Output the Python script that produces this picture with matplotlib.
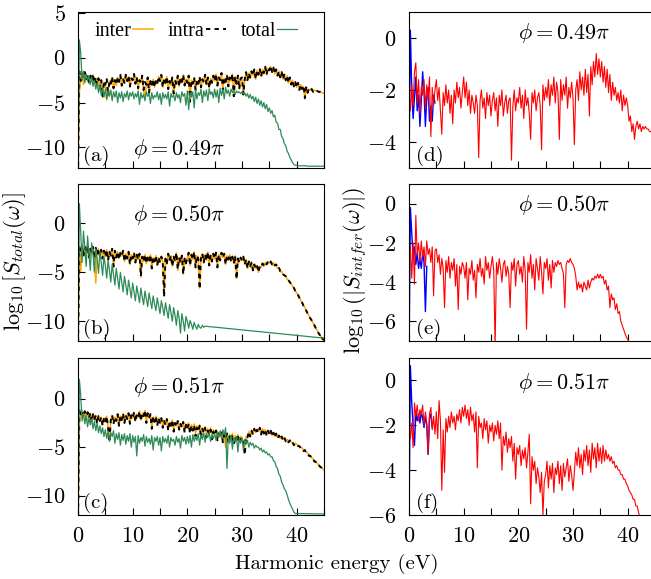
import numpy as np
import matplotlib
matplotlib.use("Agg")
import matplotlib.pyplot as plt
from matplotlib.ticker import MultipleLocator

plt.rcParams["font.family"] = "serif"
plt.rcParams["font.serif"] = ["cmr10"]
plt.rcParams["mathtext.fontset"] = "cm"
plt.rcParams["axes.formatter.use_mathtext"] = True

# harmonic energy grid (eV), 0.25 eV step
energy = np.linspace(0, 45, 181)

# ---- panel (a), phi = 0.49 pi ----
aInter = [
    -13, -3.8, -2.3, -1.6, -3.0, -1.7, -2.4, -2.1, -2.9, -2.0, -2.6, -1.9, -3.0, -2.3, -3.1, -2.2, -3.6, -2.5, -4.4, -2.7,
    -3.1, -4.7, -4.1, -2.6, -2.9, -2.2, -3.5, -2.5, -3.1, -2.2, -2.7, -2.0, -3.2, -2.4, -2.8, -2.0, -2.6, -2.1, -3.3, -2.3,
    -2.5, -1.9, -2.9, -2.2, -3.5, -2.5, -2.8, -2.1, -3.7, -4.5, -3.0, -2.2, -3.9, -2.7, -3.1, -2.4, -3.3, -2.6, -2.9, -2.1,
    -2.6, -2.0, -3.3, -2.4, -2.9, -2.1, -3.5, -2.6, -3.1, -2.2, -4.1, -2.5, -2.9, -2.1, -3.2, -2.3, -2.8, -1.9, -3.1, -2.4,
    -2.8, -2.1, -4.9, -2.5, -2.9, -2.2, -3.7, -2.6, -3.0, -2.2, -3.3, -2.4, -2.8, -1.9, -3.0, -2.3, -3.4, -2.3, -2.8, -2.1,
    -2.6, -1.8, -3.2, -2.2, -2.5, -1.8, -3.6, -2.3, -2.8, -1.9, -3.2, -2.3, -2.6, -1.8, -4.3, -2.1, -2.9, -2.1, -3.5, -2.3,
    -2.3, -4.1, -2.4, -1.7, -2.5, -1.7, -2.3, -1.5, -2.0, -1.4, -2.4, -1.4, -1.9, -1.3, -2.1, -1.3, -1.8, -1.0, -1.9, -1.2,
    -1.4, -1.0, -1.6, -1.1, -1.8, -1.4, -2.0, -1.5, -2.2, -1.7, -2.4, -1.8, -2.6, -2.0, -2.8, -2.3, -3.0, -2.5, -3.2, -2.8,
    -3.3, -2.9, -3.6, -3.0, -3.5, -3.2, -4.6, -3.3, -3.9, -3.5, -3.6, -3.5, -3.8, -3.6, -3.7, -3.7, -3.8, -3.8, -3.9, -3.9,
    -4.0]
aIntra = [
    -13, -1.5, -2.6, -1.8, -2.2, -1.6, -2.4, -1.9, -2.8, -2.0, -2.5, -1.8, -2.9, -2.2, -3.0, -2.3, -3.3, -2.5, -4.3, -2.6,
    -3.0, -2.3, -4.2, -2.6, -2.9, -2.1, -3.4, -2.5, -3.0, -2.2, -2.7, -1.9, -3.1, -2.4, -2.8, -1.9, -2.6, -2.0, -3.2, -2.3,
    -2.5, -1.8, -2.9, -2.2, -3.4, -2.5, -2.8, -2.0, -3.6, -2.7, -3.0, -2.2, -3.9, -2.6, -3.1, -2.4, -3.3, -2.5, -2.9, -2.1,
    -2.6, -1.9, -3.3, -2.4, -2.8, -2.1, -3.5, -2.6, -3.0, -2.2, -4.0, -2.5, -2.9, -2.0, -3.2, -2.3, -2.7, -1.9, -3.1, -2.4,
    -2.8, -2.0, -4.9, -2.5, -2.9, -2.2, -3.6, -2.6, -3.0, -2.1, -3.3, -2.4, -2.7, -1.9, -3.0, -2.2, -3.4, -2.3, -2.8, -2.0,
    -2.6, -1.8, -3.1, -2.2, -2.5, -1.7, -3.6, -2.3, -2.7, -1.9, -3.2, -2.2, -2.6, -1.8, -4.3, -2.1, -2.9, -2.0, -3.5, -2.3,
    -2.2, -4.1, -2.4, -1.6, -2.5, -1.7, -2.2, -1.5, -2.0, -1.3, -2.4, -1.4, -1.9, -1.2, -2.1, -1.3, -1.7, -1.0, -1.9, -1.1,
    -1.4, -0.9, -1.6, -1.1, -1.8, -1.3, -2.0, -1.5, -2.2, -1.6, -2.4, -1.8, -2.5, -2.0, -2.8, -2.2, -3.0, -2.5, -3.2, -2.7,
    -3.3, -2.8, -3.6, -3.0, -3.5, -3.1, -4.5, -3.3, -3.9, -3.4, -3.6, -3.5, -3.8, -3.6, -3.7, -3.7, -3.8, -3.8, -3.9, -3.9,
    -4.0]
aTotal = [
    -13, 2.0, 0.5, -2.5, -1.5, -2.8, -1.8, -2.6, -2.0, -3.0, -2.2, -3.2, -2.5, -3.5, -2.8, -3.9, -3.0, -4.2, -3.3, -4.4,
    -3.5, -4.6, -3.7, -4.3, -3.6, -4.8, -3.8, -4.4, -3.7, -5.0, -3.9, -4.5, -3.8, -4.9, -4.0, -4.4, -3.7, -4.7, -3.9, -4.3,
    -3.8, -4.6, -4.0, -4.4, -3.7, -5.2, -3.9, -4.5, -4.1, -4.8, -3.8, -4.3, -4.0, -5.1, -3.9, -4.6, -4.2, -4.4, -3.8, -4.7,
    -4.0, -5.2, -3.9, -4.5, -4.1, -4.6, -3.8, -5.4, -4.0, -4.4, -4.2, -4.8, -3.9, -4.5, -4.1, -5.0, -3.8, -4.3, -4.0, -5.3,
    -3.7, -5.8, -3.9, -4.4, -3.8, -5.6, -3.6, -4.6, -3.9, -4.2, -3.5, -5.0, -3.7, -4.3, -3.6, -4.8, -3.5, -4.1, -3.8, -4.5,
    -3.5, -4.4, -3.6, -5.0, -3.4, -4.2, -3.5, -4.6, -3.3, -4.0, -3.6, -4.3, -3.5, -3.9, -3.6, -4.1, -3.7, -3.9, -3.8, -4.0,
    -3.8, -4.0, -3.9, -4.3, -4.0, -4.5, -4.1, -4.6, -4.3, -4.9, -4.4, -5.1, -4.6, -5.3, -4.8, -5.5, -5.0, -5.7, -5.2, -6.0,
    -5.6, -6.2, -5.9, -6.6, -6.4, -7.2, -7.3, -8.0, -8.0, -8.8, -9.0, -9.6, -9.8, -10.4, -10.7, -11.1, -11.4, -11.7, -11.9, -12.0,
    -12.0, -12.05, -12.05, -12.05, -12.05, -12.05, -12.05, -12.05, -12.1, -12.1, -12.1, -12.1, -12.1, -12.1, -12.1, -12.1, -12.1, -12.1, -12.1, -12.1,
    -12.1]

# ---- panel (b), phi = 0.50 pi ----
bInter = [
    -13, -2.3, -4.9, -2.2, -3.3, -2.4, -3.0, -2.3, -3.4, -2.6, -3.1, -2.4, -3.5, -6.1, -3.2, -2.6, -3.3, -2.7, -3.5, -2.8,
    -3.4, -2.7, -3.8, -2.9, -3.3, -2.6, -4.5, -2.8, -3.5, -2.9, -3.6, -3.0, -3.3, -2.8, -3.9, -3.1, -3.6, -2.9, -4.2, -3.2,
    -3.6, -3.0, -4.0, -3.2, -3.7, -3.1, -5.5, -3.4, -3.9, -3.2, -4.1, -3.4, -3.8, -3.2, -4.6, -3.5, -3.9, -3.3, -4.3, -3.5,
    -4.0, -3.4, -3.9, -7.3, -3.6, -4.1, -3.1, -3.8, -3.3, -4.4, -3.4, -3.9, -3.0, -4.8, -3.5, -4.0, -3.3, -5.2, -3.6, -4.1,
    -3.5, -3.0, -4.3, -3.2, -3.7, -2.9, -4.5, -3.3, -3.6, -6.6, -3.4, -3.1, -4.0, -3.2, -3.8, -2.9, -4.3, -3.3, -3.9, -3.1,
    -3.6, -3.0, -4.5, -3.2, -3.8, -3.0, -3.5, -3.1, -4.2, -3.3, -3.7, -3.2, -3.9, -3.4, -4.1, -3.3, -5.6, -3.6, -4.0, -3.5,
    -3.8, -3.4, -4.2, -3.7, -4.6, -3.9, -4.4, -4.0, -4.8, -4.2, -4.6, -4.3, -5.0, -4.4, -4.5, -4.1, -4.3, -4.0, -4.2, -3.9,
    -4.1, -3.9, -4.2, -4.0, -4.3, -4.2, -4.6, -4.5, -4.9, -4.9, -5.2, -5.3, -5.4, -5.7, -5.8, -6.0, -6.2, -6.4, -6.6, -6.9,
    -7.1, -7.3, -7.6, -7.9, -8.1, -8.4, -8.6, -8.9, -9.2, -9.4, -9.7, -9.9, -10.2, -10.4, -10.7, -10.9, -11.2, -11.4, -11.6, -11.8,
    -11.9]
bIntra = [
    -13, -2.5, -3.0, -2.2, -3.4, -2.4, -3.0, -2.3, -3.5, -2.6, -3.1, -2.4, -3.6, -2.5, -3.2, -2.6, -3.3, -2.7, -3.6, -2.8,
    -3.4, -2.7, -3.8, -2.9, -3.3, -2.6, -4.4, -2.8, -3.5, -2.9, -3.7, -3.0, -3.3, -2.8, -3.9, -3.1, -3.6, -2.9, -4.2, -3.2,
    -3.6, -3.0, -4.0, -3.2, -3.7, -3.1, -5.4, -3.4, -3.9, -3.2, -4.1, -3.4, -3.8, -3.2, -4.6, -3.5, -3.9, -3.3, -4.3, -3.5,
    -4.0, -3.4, -3.9, -7.5, -3.6, -4.1, -3.1, -3.8, -3.3, -4.4, -3.4, -3.9, -3.0, -4.7, -3.5, -4.0, -3.3, -5.2, -3.6, -4.1,
    -3.5, -3.0, -4.3, -3.2, -3.7, -2.9, -4.5, -3.3, -3.6, -6.7, -3.4, -3.1, -4.0, -3.2, -3.8, -2.9, -4.3, -3.3, -3.9, -3.1,
    -3.6, -3.0, -4.5, -3.2, -3.8, -3.0, -3.5, -3.1, -4.2, -3.3, -3.7, -3.2, -3.9, -3.4, -4.1, -3.3, -5.7, -3.6, -4.0, -3.5,
    -3.8, -3.4, -4.2, -3.7, -4.6, -3.9, -4.4, -4.0, -4.8, -4.2, -4.6, -4.3, -5.0, -4.4, -4.5, -4.1, -4.3, -4.0, -4.2, -3.9,
    -4.1, -3.9, -4.2, -4.0, -4.3, -4.2, -4.6, -4.5, -4.9, -4.9, -5.2, -5.3, -5.4, -5.7, -5.8, -6.0, -6.2, -6.4, -6.6, -6.9,
    -7.1, -7.3, -7.6, -7.9, -8.1, -8.4, -8.6, -8.9, -9.2, -9.4, -9.7, -9.9, -10.2, -10.4, -10.7, -10.9, -11.2, -11.4, -11.3, -11.8,
    -11.9]
bTotal = [
    -13, 2.0, -1.0, -4.0, -0.8, -2.5, -4.4, -1.3, -3.0, -4.8, -2.0, -3.2, -5.0, -2.6, -3.6, -5.1, -3.0, -4.0, -5.3, -3.4,
    -4.3, -5.6, -3.8, -4.8, -6.0, -4.2, -5.2, -6.3, -4.6, -5.6, -6.7, -5.0, -6.0, -7.0, -5.4, -6.3, -7.3, -5.8, -6.7, -7.6,
    -6.1, -7.0, -7.9, -6.4, -7.2, -8.1, -6.6, -7.5, -8.3, -6.9, -7.7, -8.5, -7.1, -7.9, -8.7, -7.4, -8.2, -8.9, -7.6, -8.4,
    -9.2, -7.9, -8.6, -9.4, -8.1, -8.9, -9.7, -8.3, -9.1, -10.0, -8.6, -9.4, -10.4, -8.9, -9.7, -11.2, -9.2, -10.0, -11.0, -9.5,
    -10.0, -10.7, -9.9, -10.3, -10.8, -10.1, -10.5, -10.8, -10.3, -10.6, -10.7, -10.4, -10.6, -10.5, -10.5, -10.52, -10.53, -10.55, -10.56, -10.57,
    -10.59, -10.60, -10.62, -10.63, -10.64, -10.66, -10.67, -10.69, -10.70, -10.71, -10.73, -10.74, -10.76, -10.77, -10.78, -10.80, -10.81, -10.83, -10.84, -10.85,
    -10.87, -10.88, -10.90, -10.91, -10.92, -10.94, -10.95, -10.97, -10.98, -10.99, -11.01, -11.02, -11.04, -11.05, -11.06, -11.08, -11.09, -11.11, -11.12, -11.13,
    -11.15, -11.16, -11.18, -11.19, -11.20, -11.22, -11.23, -11.25, -11.26, -11.27, -11.29, -11.30, -11.32, -11.33, -11.34, -11.36, -11.37, -11.39, -11.40, -11.41,
    -11.43, -11.44, -11.46, -11.47, -11.48, -11.50, -11.51, -11.53, -11.54, -11.55, -11.57, -11.58, -11.60, -11.61, -11.62, -11.64, -11.65, -11.67, -11.68, -11.69,
    -11.7]

# ---- panel (c), phi = 0.51 pi ----
cInter = [
    -13, -2.5, -1.4, -1.2, -1.8, -1.3, -2.1, -1.4, -2.0, -1.5, -2.3, -1.6, -2.1, -1.7, -2.5, -1.8, -2.3, -1.9, -2.7, -2.0,
    -2.4, -1.8, -2.9, -4.2, -2.2, -1.7, -2.5, -1.9, -2.3, -1.6, -2.7, -1.8, -2.2, -1.5, -2.5, -1.7, -2.1, -1.5, -2.5, -1.7,
    -2.0, -1.4, -2.3, -1.6, -1.9, -1.3, -2.2, -1.5, -1.8, -1.2, -2.4, -1.5, -2.0, -1.6, -3.0, -1.9, -2.4, -1.8, -2.7, -2.0,
    -2.4, -2.0, -2.9, -2.3, -2.6, -2.1, -3.2, -2.4, -2.7, -2.2, -3.3, -2.5, -2.8, -2.3, -3.1, -2.6, -2.9, -2.4, -3.4, -2.6,
    -3.0, -2.5, -3.4, -2.7, -3.1, -2.6, -3.6, -2.8, -3.2, -2.7, -3.8, -3.0, -3.3, -2.9, -3.7, -3.1, -3.5, -3.0, -3.9, -3.2,
    -3.6, -3.2, -4.1, -3.5, -3.9, -3.4, -4.3, -3.6, -5.0, -3.5, -4.4, -3.7, -4.1, -3.6, -4.6, -3.8, -4.2, -3.7, -4.5, -3.9,
    -4.1, -4.5, -5.0, -3.9, -3.9, -3.4, -3.8, -3.3, -3.6, -3.1, -3.5, -3.2, -3.4, -3.0, -3.6, -3.1, -3.5, -3.2, -3.7, -3.3,
    -3.6, -3.3, -3.8, -3.5, -3.9, -3.6, -4.0, -3.8, -4.1, -3.9, -4.2, -4.0, -4.3, -4.2, -4.4, -4.3, -4.5, -4.5, -4.7, -4.6,
    -4.7, -4.8, -4.9, -5.0, -5.1, -5.3, -5.3, -5.5, -5.6, -5.8, -5.9, -6.1, -6.2, -6.4, -6.5, -6.7, -6.8, -7.0, -7.1, -7.2,
    -7.4]
cIntra = [
    -13, -1.0, -1.6, -1.2, -1.9, -1.3, -2.2, -1.4, -2.0, -1.5, -2.4, -1.6, -2.1, -1.7, -2.6, -1.8, -2.3, -1.9, -2.8, -2.0,
    -2.4, -1.8, -3.0, -4.5, -2.2, -1.7, -2.6, -1.9, -2.3, -1.6, -2.8, -1.8, -2.2, -1.5, -2.5, -1.7, -2.1, -1.5, -2.6, -1.7,
    -2.0, -1.4, -2.4, -1.6, -1.9, -1.3, -2.3, -1.5, -1.8, -1.2, -2.5, -1.5, -2.0, -1.6, -3.1, -1.9, -2.4, -1.8, -2.8, -2.0,
    -2.5, -2.0, -3.0, -2.3, -2.7, -2.1, -3.3, -2.4, -2.8, -2.2, -3.4, -2.5, -2.9, -2.3, -3.2, -2.6, -3.0, -2.4, -3.5, -2.7,
    -3.1, -2.6, -3.6, -2.8, -3.3, -2.7, -3.9, -3.0, -3.4, -2.8, -4.1, -3.1, -3.5, -3.0, -4.0, -3.3, -3.7, -3.2, -4.2, -3.4,
    -3.8, -3.3, -4.3, -3.6, -4.0, -3.5, -4.5, -3.7, -4.1, -3.6, -4.6, -3.8, -4.2, -3.7, -4.8, -3.9, -4.3, -3.8, -4.6, -4.0,
    -4.2, -4.6, -5.8, -3.9, -4.0, -3.4, -3.9, -3.3, -3.7, -3.1, -3.6, -3.2, -3.5, -3.0, -3.7, -3.1, -3.6, -3.2, -3.8, -3.3,
    -3.7, -3.3, -3.9, -3.5, -4.0, -3.6, -4.1, -3.8, -4.2, -3.9, -4.3, -4.0, -4.4, -4.2, -4.5, -4.3, -4.6, -4.5, -4.8, -4.6,
    -4.7, -4.9, -4.9, -5.1, -5.1, -5.4, -5.3, -5.6, -5.6, -5.9, -5.9, -6.2, -6.2, -6.5, -6.5, -6.8, -6.8, -7.0, -7.1, -7.2,
    -7.4]
cTotal = [
    -13, 2.0, 0.3, -2.3, -1.5, -2.6, -1.7, -2.9, -2.0, -2.7, -2.1, -3.1, -2.3, -3.3, -2.5, -3.5, -2.8, -3.6, -3.0, -3.9,
    -3.2, -4.1, -3.4, -4.4, -3.5, -3.9, -3.3, -4.6, -3.6, -4.2, -3.5, -4.8, -3.7, -4.3, -3.6, -4.7, -3.8, -4.4, -3.6, -5.0,
    -3.8, -4.5, -3.9, -5.9, -3.8, -4.6, -4.0, -4.4, -3.7, -4.9, -3.9, -4.5, -4.1, -4.7, -3.8, -5.3, -4.0, -4.4, -3.9, -4.8,
    -4.0, -5.4, -3.9, -4.5, -4.1, -4.6, -3.8, -5.0, -4.0, -4.4, -4.2, -4.8, -3.9, -4.5, -4.1, -5.1, -3.8, -4.4, -4.0, -4.7,
    -3.9, -4.6, -3.8, -5.0, -3.7, -4.4, -3.9, -4.3, -3.6, -4.8, -3.7, -4.2, -3.5, -4.5, -3.6, -4.0, -3.5, -4.4, -3.7, -4.1,
    -3.6, -4.3, -3.4, -4.0, -3.3, -4.1, -3.2, -3.7, -3.0, -7.2, -3.9, -4.6, -3.8, -5.2, -4.0, -4.5, -3.9, -5.5, -4.1, -4.6,
    -4.0, -5.3, -4.2, -4.7, -4.3, -5.0, -4.5, -4.8, -4.6, -5.1, -4.8, -5.0, -5.0, -5.3, -5.1, -5.5, -5.3, -5.6, -5.5, -5.8,
    -5.7, -6.0, -6.0, -6.4, -6.5, -7.0, -7.2, -7.8, -8.0, -8.6, -8.9, -9.3, -9.5, -9.9, -10.4, -10.8, -11.1, -11.4, -11.7, -11.85,
    -11.85, -11.85, -11.85, -11.85, -11.86, -11.86, -11.86, -11.86, -11.87, -11.87, -11.87, -11.87, -11.88, -11.88, -11.88, -11.88, -11.89, -11.89, -11.89, -11.89,
    -11.9]

# ---- panels (d)-(f): interference term ----
dRed = [
    -2.0, -2.8, -1.8, -2.6, -1.3, -0.95, -2.5, -1.6, -2.9, -1.9, -2.2, -1.6, -2.7, -1.8, -2.4, -1.5, -3.8, -1.9, -2.6, -2.0,
    -1.6, -2.4, -1.9, -2.8, -3.7, -2.1, -2.6, -1.8, -2.5, -2.0, -2.9, -2.2, -3.3, -2.0, -2.5, -1.7, -2.3, -1.9, -2.7, -2.1,
    -1.5, -2.3, -1.7, -2.6, -2.0, -2.9, -2.2, -2.5, -2.9, -2.2, -2.6, -4.6, -2.4, -2.0, -2.7, -2.3, -3.1, -2.1, -2.6, -2.2,
    -3.0, -2.4, -2.1, -2.8, -2.3, -3.4, -2.2, -2.6, -2.0, -3.0, -2.5, -2.2, -2.9, -2.4, -2.3, -4.7, -2.6, -2.0, -2.8, -2.3,
    -2.5, -1.9, -2.7, -2.2, -3.1, -2.0, -2.6, -2.3, -2.9, -3.9, -2.1, -2.5, -2.0, -2.8, -2.3, -2.1, -2.6, -4.3, -1.8, -2.4,
    -1.9, -2.3, -1.6, -2.6, -1.8, -2.2, -1.5, -2.5, -1.7, -2.1, -3.9, -1.6, -2.4, -1.8, -2.2, -1.5, -2.7, -1.9, -2.3, -1.7,
    -2.3, -4.1, -2.0, -1.6, -2.4, -1.3, -2.0, -1.5, -2.2, -1.2, -2.1, -1.4, -3.0, -1.1, -1.8, -0.9, -1.5, -0.6, -1.4, -0.8,
    -1.5, -0.9, -1.7, -1.1, -1.9, -1.2, -2.1, -1.4, -2.4, -1.7, -2.2, -1.9, -2.4, -2.1, -2.5, -2.0, -2.8, -2.2, -2.6, -2.3,
    -2.6, -3.2, -3.0, -3.6, -3.3, -3.9, -3.4, -3.2, -3.5, -3.3, -3.6, -3.4, -3.5, -3.4, -3.5, -3.5, -3.6, -3.6, -3.6, -3.7,
    -3.7]
dBlue = [-5.0, 0.3, -2.0, -3.1, -2.3, -1.5, -2.8, -2.2, -3.4, -2.4, -1.3, -2.1, -3.4, -2.3, -1.9, -3.2, -2.6, -3.2, -2.2, -2.5]

eRed = [
    -3.0, -2.2, -3.8, -2.0, -4.1, -0.6, -2.6, -2.0, -3.0, -1.9, -2.7, -2.2, -3.2, -1.9, -2.6, -2.3, -3.0, -2.2, -4.7, -2.4,
    -2.3, -3.0, -2.6, -3.6, -2.8, -3.3, -5.3, -2.9, -3.5, -2.7, -3.8, -3.0, -3.4, -2.8, -4.2, -3.1, -5.4, -3.2, -3.6, -3.0,
    -3.2, -3.8, -3.0, -4.9, -3.3, -3.6, -2.9, -3.9, -3.4, -4.8, -3.1, -3.5, -2.8, -3.7, -3.3, -4.1, -2.7, -3.4, -3.0, -3.8,
    -3.2, -2.7, -3.4, -7.3, -3.0, -3.6, -2.8, -3.3, -4.0, -3.1, -2.9, -3.7, -3.2, -3.6, -5.3, -3.0, -3.4, -2.8, -4.2, -3.1,
    -2.9, -3.6, -3.2, -4.0, -2.7, -3.4, -6.4, -3.0, -3.5, -2.6, -3.8, -3.1, -4.4, -2.8, -3.3, -3.9, -2.7, -3.5, -4.6, -3.0,
    -3.3, -2.8, -3.9, -3.1, -4.3, -2.9, -3.5, -3.0, -3.2, -2.9, -3.1, -3.0, -3.3, -3.6, -5.3, -3.1, -2.9, -3.0, -2.8, -3.0,
    -3.1, -3.3, -3.7, -4.4, -4.0, -4.3, -4.1, -4.5, -4.0, -4.2, -4.4, -3.9, -4.3, -4.0, -3.8, -3.9, -3.7, -3.8, -3.6, -3.8,
    -3.6, -3.8, -3.7, -4.1, -3.9, -4.4, -4.2, -5.3, -4.6, -4.9, -4.8, -5.4, -5.1, -5.6, -5.5, -6.0, -6.2, -6.4, -6.6, -6.8,
    -6.9, -7.1, -7.3, -7.5, -7.7, -7.9, -8.1, -8.3, -8.5, -8.7, -8.9, -9.1, -9.3, -9.5, -9.7, -9.9, -10.1, -10.3, -10.5, -10.7,
    -10.9]
eBlue = [-8.0, -0.2, -1.5, -2.7, -2.2, -3.1, -2.5, -3.3, -2.8, -3.3, -2.5, -3.0, -5.5, -3.2]

fRed = [
    -2.0, -2.6, -1.9, -3.0, -1.0, -1.6, -1.1, -1.8, -1.3, -1.5, -1.1, -2.0, -1.4, -1.9, -3.3, -1.5, -1.2, -2.2, -1.6, -2.4,
    -1.4, -2.6, -0.9, -1.8, -4.9, -2.2, -4.1, -1.7, -2.3, -1.6, -2.1, -1.4, -1.9, -1.6, -2.2, -1.5, -1.8, -1.3, -1.9, -1.2,
    -1.6, -1.1, -1.7, -1.3, -2.0, -1.2, -1.8, -1.5, -2.3, -1.4, -3.9, -1.6, -2.1, -1.9, -2.6, -1.7, -2.2, -1.8, -2.8, -2.0,
    -2.3, -1.9, -2.7, -2.0, -2.4, -1.8, -2.6, -1.9, -4.0, -2.5, -2.9, -2.3, -3.2, -2.6, -3.0, -2.5, -3.6, -2.8, -4.4, -3.0,
    -3.3, -2.9, -3.8, -3.1, -3.5, -3.0, -3.9, -3.2, -2.4, -5.5, -3.4, -4.0, -3.6, -4.6, -3.9, -4.3, -5.0, -4.1, -6.0, -4.5,
    -4.2, -3.6, -4.8, -3.8, -4.4, -3.7, -5.0, -3.9, -4.2, -3.6, -4.6, -3.8, -4.9, -3.7, -4.3, -3.9, -3.5, -4.5, -3.8, -4.2,
    -4.9, -4.1, -3.2, -3.8, -3.0, -3.9, -3.3, -4.2, -3.1, -3.6, -2.9, -3.8, -3.1, -4.1, -2.8, -3.5, -3.0, -3.9, -2.8, -3.6,
    -3.0, -3.7, -2.9, -3.6, -3.1, -3.5, -3.3, -3.6, -3.4, -3.7, -3.6, -3.9, -3.8, -4.0, -4.0, -4.2, -4.2, -4.4, -4.4, -4.6,
    -4.7, -4.9, -5.0, -5.1, -5.3, -5.3, -5.6, -5.6, -5.9, -6.1, -6.3, -6.5, -6.7, -6.9, -7.1, -7.3, -7.5, -7.7, -7.9, -8.1,
    -8.3]
fBlue = [-6.5, 0.66, -1.0, -2.0, -2.9, -1.4, -1.8, -1.5, -1.9, -1.4, -1.7, -2.1, -1.6, -2.0, -3.3, -1.7, -1.5, -2.1]

phiLabels = [r"$\phi = 0.49\pi$", r"$\phi = 0.50\pi$", r"$\phi = 0.51\pi$"]
leftTags = ["(a)", "(b)", "(c)"]
rightTags = ["(d)", "(e)", "(f)"]

leftSets = [(aInter, aIntra, aTotal), (bInter, bIntra, bTotal), (cInter, cIntra, cTotal)]
rightSets = [(dRed, dBlue), (eRed, eBlue), (fRed, fBlue)]
leftYlims = [(-12.3, 5.1), (-12.0, 4.0), (-12.0, 4.2)]
rightYlims = [(-5.0, 1.0), (-7.0, 1.0), (-6.0, 1.0)]
leftYticks = [[-10, -5, 0, 5], [-10, -5, 0], [-10, -5, 0]]
rightYticks = [[-4, -2, 0], [-6, -4, -2, 0], [-6, -4, -2, 0]]

W, H = 651, 579
fig = plt.figure(figsize=(W / 100, H / 100), dpi=100)

# panel boxes in pixels: (top, bottom)
rows = [(12, 168), (184, 341), (358, 515)]
leftX, rightX, axW = 78, 409, 246

tickSize = 16
orange = "#ffa500"
green = "#2e8b57"

for i, (top, bot) in enumerate(rows):
    axL = fig.add_axes([leftX / W, 1 - bot / H, axW / W, (bot - top) / H])
    axR = fig.add_axes([rightX / W, 1 - bot / H, axW / W, (bot - top) / H])

    inter, intra, total = leftSets[i]
    axL.plot(energy, inter, color=orange, lw=1.1, label="inter")
    axL.plot(energy, intra, color="black", lw=1.4, ls=(0, (2.2, 2.2)), label="intra")
    axL.plot(energy, total, color=green, lw=0.9, label="total")
    axL.set_ylim(*leftYlims[i])
    axL.set_yticks(leftYticks[i])
    axL.text(0.02, 0.075, leftTags[i], transform=axL.transAxes, fontsize=15, va="center")

    red, blue = rightSets[i]
    axR.plot(energy[:len(blue)], blue, color="blue", lw=1.0)
    axR.plot(energy, red, color="red", lw=0.8)
    axR.set_ylim(*rightYlims[i])
    axR.set_yticks(rightYticks[i])
    axR.text(0.03, 0.08, rightTags[i], transform=axR.transAxes, fontsize=15, va="center")

    for ax in (axL, axR):
        ax.set_xlim(0, 45)
        ax.xaxis.set_major_locator(MultipleLocator(10))
        ax.xaxis.set_minor_locator(MultipleLocator(5))
        ax.tick_params(which="both", direction="in", length=5, width=0.8, labelsize=tickSize, pad=9)
        ax.tick_params(axis="x", pad=8)
        if i < 2:
            ax.tick_params(labelbottom=False)

    if i == 0:
        axL.text(0.224, 0.12, phiLabels[i], transform=axL.transAxes, fontsize=16, va="center")
        axL.legend(loc="center", bbox_to_anchor=(0.48, 0.878), ncol=3, frameon=False, markerfirst=False,
                   handlelength=1.0, handletextpad=0.05, columnspacing=0.75,
                   prop={"family": "Liberation Serif", "size": 14.5},
                   borderaxespad=0, borderpad=0)
    else:
        axL.text(0.224, 0.80 if i == 1 else 0.815, phiLabels[i], transform=axL.transAxes, fontsize=16, va="center")
    axR.text(0.443, [0.866, 0.867, 0.84][i], phiLabels[i], transform=axR.transAxes, fontsize=16, va="center")

fig.text(15 / W, 1 - 262 / H, r"$\log_{10}[S_{total}(\omega)]$", rotation=90, ha="center", va="center", fontsize=16)
fig.text(355 / W, 1 - 270 / H, r"$\log_{10}(|S_{intfer}(\omega)|)$", rotation=90, ha="center", va="center", fontsize=16)
fig.text(337 / W, 1 - 564 / H, "Harmonic energy (eV)", ha="center", va="center", fontsize=15)

fig.savefig("out.png", dpi=100)
